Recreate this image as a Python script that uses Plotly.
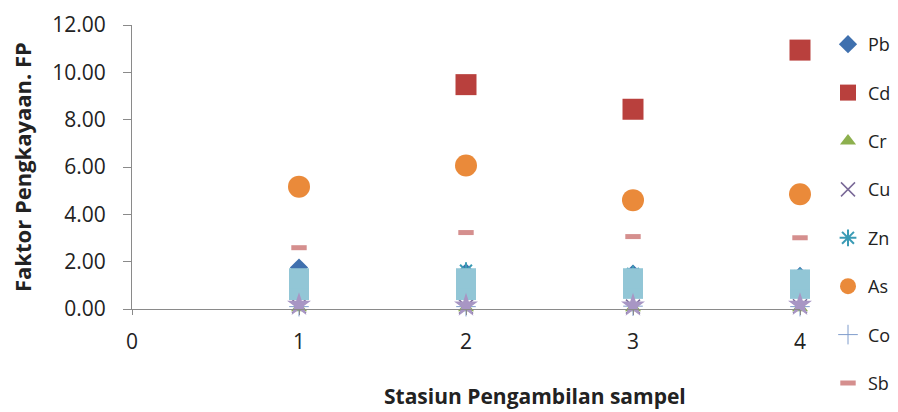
import plotly.graph_objects as go

stasiun = [1, 2, 3, 4]
Pb = [1.75, 1.55, 1.50, 1.40]
Cd = [None, 9.48, 8.44, 10.94]
Cr = [0.05, 0.05, 0.05, 0.05]
Cu = [0.12, 0.10, 0.10, 0.12]
Zn = [1.20, 1.62, 1.48, 1.38]
As_ = [5.17, 6.06, 4.60, 4.85]
Co = [0.10, 0.10, 0.12, 0.10]
Sb = [2.59, 3.23, 3.06, 3.01]
# unlabeled overlapping series visible in the chart (not in legend)
lain_x = [1, 1, 2, 2, 3, 3, 4, 4]
lain_biru = [0.80, 1.30, 0.80, 1.30, 0.85, 1.30, 0.85, 1.25]
lain_ungu = [0.18, 0.15, 0.15, 0.18]

FONT = "'Open Sans', Lato, sans-serif"
TXT = "#222222"

# figure geometry (page has an 8px body margin)
W, H = 890, 404
L, R, T, B = 124, 98, 17, 103
PW, PH = W - L - R, H - T - B

fig = go.Figure()

def add(name, y, symbol, color, size, line_color=None, line_width=0, x=None, showlegend=True):
    fig.add_trace(go.Scatter(
        x=x if x is not None else stasiun, y=y, mode="markers", name=name,
        legendgroup=name, showlegend=showlegend, cliponaxis=False,
        marker=dict(symbol=symbol, color=color, size=size,
                    line=dict(color=line_color or color, width=line_width)),
    ))

add("Pb", Pb, "diamond", "#3F70AE", 14)
add("Cd", Cd, "square", "#B9403D", 21)
add("Cr", Cr, "triangle-up", "#8DB04E", 14)
add("Cu", Cu, "x-thin", "#7A6A98", 14, line_width=1.5)
add("Zn", Zn, "asterisk", "#3A9BB5", 14, line_width=2)
add("As", As_, "circle", "#EA8A3A", 22)
add("Co", Co, "cross-thin", "#7F9CCC", 14, line_width=1)
add("Sb", Sb, "line-ew", "#D58F8E", 11, line_width=5)
add("lain1", lain_biru, "square", "#92C6D6", 20, x=lain_x, showlegend=False)
add("lain2", lain_ungu, "star", "#A896C4", 18, showlegend=False)

axis_font = dict(family=FONT, size=21, color=TXT)

fig.update_layout(
    width=W, height=H,
    paper_bgcolor="white", plot_bgcolor="white",
    margin=dict(l=L, r=R, t=T, b=B, autoexpand=False),
    font=dict(family=FONT, size=18, color=TXT),
    xaxis=dict(range=[0, 4], tickvals=[0, 1, 2, 3, 4], showgrid=False, zeroline=False,
               showline=True, linecolor="#8a8a8a", linewidth=1,
               ticks="outside", ticklen=5, tickcolor="#8a8a8a",
               tickfont=axis_font, ticklabelstandoff=9, automargin=False),
    yaxis=dict(range=[0, 12], dtick=2, tickformat=".2f", showgrid=False, zeroline=False,
               showline=True, linecolor="#8a8a8a", linewidth=1,
               ticks="outside", ticklen=8, tickcolor="#8a8a8a",
               tickfont=axis_font, ticklabelstandoff=13, automargin=False),
    legend=dict(x=(820 - L) / PW, xanchor="left", y=(H - B - 18) / PH, yanchor="top",
                font=dict(family=FONT, size=18, color=TXT),
                tracegroupgap=22, itemsizing="trace", bgcolor="rgba(0,0,0,0)",
                maxheight=H),
    showlegend=True,
)

fig.add_annotation(text="<b>Stasiun Pengambilan sampel</b>", xref="paper", yref="paper",
                   x=(527 - L) / PW, y=-(388 - (H - B)) / PH, xanchor="center", yanchor="middle",
                   showarrow=False, font=dict(family=FONT, size=21, color=TXT))
fig.add_annotation(text="<b>Faktor Pengkayaan. FP</b>", xref="paper", yref="paper",
                   x=-(L - 14) / PW, y=0.5, xanchor="center", yanchor="middle", textangle=-90,
                   showarrow=False, font=dict(family=FONT, size=22, color=TXT))

fig.write_html("out.html")
